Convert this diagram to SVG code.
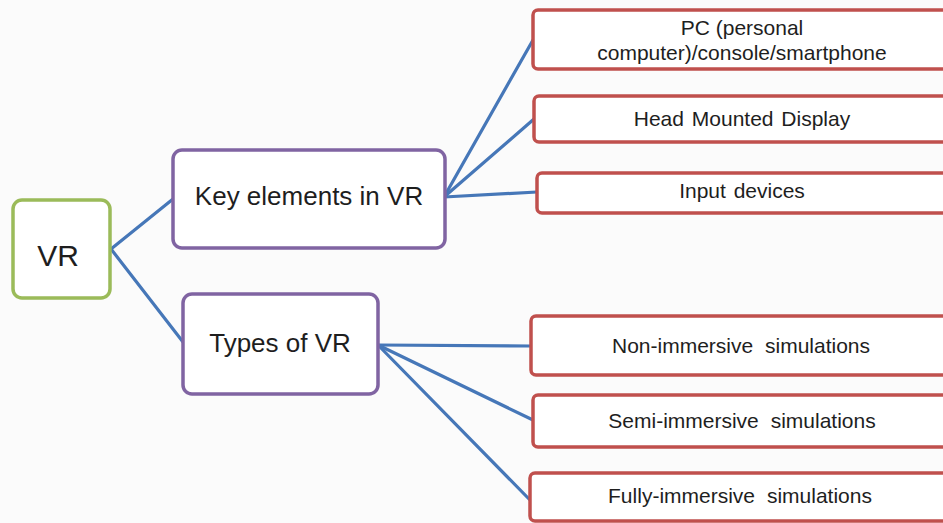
<svg xmlns="http://www.w3.org/2000/svg" width="943" height="523" viewBox="0 0 943 523">
  <style>
    .bg { fill: #fbfbfb; }
    .root { fill: #ffffff; stroke: #9bbb59; stroke-width: 3.5; }
    .mid { fill: #ffffff; stroke: #8064a2; stroke-width: 3.5; }
    .leaf { fill: #ffffff; stroke: #c0504d; stroke-width: 3.5; }
    .edge { stroke: #4677b8; stroke-width: 3.2; fill: none; stroke-linecap: round; }
    text { font-family: "Liberation Sans", Arial, sans-serif; fill: #1e1e1e; text-anchor: middle; }
    .t-root { font-size: 30px; }
    .t-mid { font-size: 26px; }
    .t-leaf { font-size: 21px; }
  </style>

  <rect class="bg" x="0" y="0" width="943" height="523"/>

  <!-- connectors -->
  <g id="connectors">
    <line class="edge" x1="111" y1="249" x2="173" y2="199"/>
    <line class="edge" x1="111" y1="249" x2="183" y2="342"/>
    <line class="edge" x1="444" y1="197" x2="533" y2="40"/>
    <line class="edge" x1="444" y1="197" x2="534" y2="119"/>
    <line class="edge" x1="444" y1="197" x2="537" y2="192"/>
    <line class="edge" x1="378" y1="345" x2="531" y2="346"/>
    <line class="edge" x1="378" y1="345" x2="533" y2="420"/>
    <line class="edge" x1="378" y1="345" x2="530" y2="500"/>
  </g>

  <g id="node-vr">
    <rect class="root" x="13" y="200" width="97" height="98" rx="9"/>
    <text class="t-root" x="58" y="266">VR</text>
  </g>

  <g id="node-key-elements">
    <rect class="mid" x="173" y="150" width="272" height="98" rx="9"/>
    <text class="t-mid" x="309" y="205">Key elements in VR</text>
  </g>

  <g id="node-types">
    <rect class="mid" x="183" y="294" width="195" height="100" rx="9"/>
    <text class="t-mid" x="280" y="352">Types of VR</text>
  </g>

  <g id="node-pc">
    <rect class="leaf" x="533" y="10" width="430" height="59" rx="5"/>
    <text class="t-leaf" x="742" y="35">PC (personal</text>
    <text class="t-leaf" x="742" y="60">computer)/console/smartphone</text>
  </g>

  <g id="node-hmd">
    <rect class="leaf" x="534" y="96" width="430" height="46" rx="5"/>
    <text class="t-leaf" x="742" y="126" word-spacing="2">Head Mounted Display</text>
  </g>

  <g id="node-input">
    <rect class="leaf" x="537" y="173" width="430" height="40" rx="5"/>
    <text class="t-leaf" x="742" y="198" word-spacing="2">Input devices</text>
  </g>

  <g id="node-non-immersive">
    <rect class="leaf" x="531" y="316" width="430" height="59" rx="5"/>
    <text class="t-leaf" x="741" y="353" word-spacing="6">Non-immersive simulations</text>
  </g>

  <g id="node-semi-immersive">
    <rect class="leaf" x="533" y="395" width="430" height="52" rx="5"/>
    <text class="t-leaf" x="742" y="428" word-spacing="6">Semi-immersive simulations</text>
  </g>

  <g id="node-fully-immersive">
    <rect class="leaf" x="530" y="473" width="430" height="48" rx="5"/>
    <text class="t-leaf" x="740" y="503" word-spacing="6">Fully-immersive simulations</text>
  </g>
</svg>
